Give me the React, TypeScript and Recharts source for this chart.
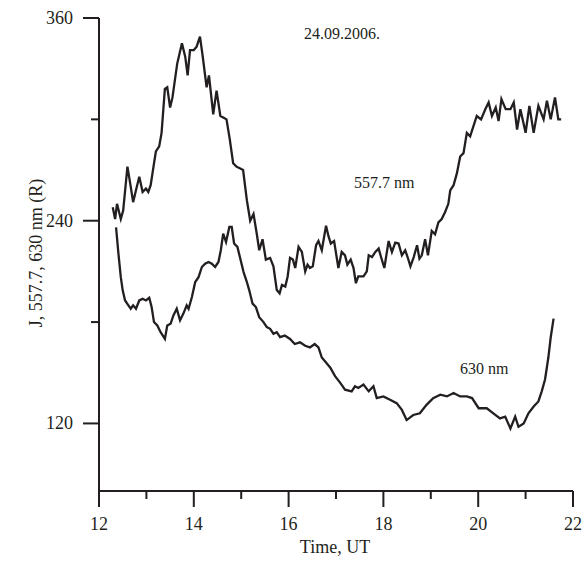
import React from "react";
import { LineChart, Line, XAxis, YAxis } from "recharts";

// 557.7 nm series
const greenTime = [12.29,12.34,12.38,12.46,12.51,12.6,12.67,12.72,12.78,12.85,12.92,12.99,13.04,13.09,13.15,13.2,13.27,13.32,13.39,13.44,13.5,13.55,13.65,13.75,13.82,13.87,13.92,14.0,14.06,14.13,14.18,14.27,14.32,14.41,14.48,14.56,14.63,14.69,14.76,14.83,14.9,14.97,15.04,15.12,15.19,15.26,15.33,15.38,15.45,15.52,15.61,15.68,15.75,15.81,15.86,15.93,15.98,16.03,16.09,16.14,16.21,16.28,16.35,16.4,16.45,16.51,16.58,16.63,16.7,16.79,16.84,16.89,16.96,17.05,17.12,17.19,17.24,17.31,17.37,17.42,17.47,17.58,17.65,17.69,17.76,17.83,17.9,17.95,18.02,18.11,18.18,18.25,18.32,18.39,18.46,18.51,18.57,18.64,18.71,18.76,18.81,18.88,18.94,19.02,19.09,19.16,19.23,19.3,19.37,19.41,19.48,19.55,19.62,19.69,19.76,19.83,19.9,19.97,20.06,20.15,20.22,20.29,20.37,20.43,20.49,20.58,20.68,20.75,20.82,20.89,21.0,21.08,21.17,21.27,21.38,21.45,21.53,21.62,21.69,21.75];
const greenValue = [248,241,250,241,246,272,260,251,258,266,257,259,257,261,272,281,284,292,318,319,307,313,333,345,337,326,341,341,343,349,339,319,326,303,317,302,301,300,288,274,272,271,270,252,240,244,232,222.5,229,217,218,213,199,197,202,201,207,218,217,212,224.5,221.5,210,214,212,213,225.5,228,222.5,237,231,226.5,228,212,221.5,219.5,214,217,212,203,207,207,210,219.5,218.5,221.5,223.5,218.5,212,228,221.5,227,226.5,219.5,222.5,218.5,213,218.5,225.5,217.6,219.5,229,219.5,234,232,239,241,245,250,258,261,268,278,280,292,290,296,302,300,306,310,302,307,299,312,306,306,310,294,306,292,308,292,308,300,311,300,313,300,300];

// 630 nm series
const redTime = [12.36,12.41,12.46,12.5,12.55,12.62,12.67,12.72,12.78,12.85,12.92,12.99,13.06,13.11,13.16,13.23,13.3,13.39,13.44,13.51,13.57,13.64,13.71,13.78,13.85,13.89,13.96,14.03,14.1,14.17,14.24,14.31,14.38,14.45,14.52,14.57,14.62,14.68,14.75,14.8,14.85,14.92,14.98,15.05,15.12,15.17,15.24,15.31,15.38,15.47,15.54,15.61,15.68,15.75,15.82,15.92,16.03,16.13,16.24,16.35,16.45,16.55,16.63,16.7,16.79,16.88,16.98,17.09,17.19,17.33,17.4,17.47,17.58,17.69,17.79,17.86,18.0,18.14,18.28,18.39,18.49,18.63,18.77,18.91,19.05,19.2,19.34,19.48,19.62,19.76,19.87,20.01,20.18,20.32,20.46,20.57,20.68,20.78,20.85,20.96,21.06,21.17,21.27,21.34,21.41,21.48,21.53,21.59];
const redValue = [236,220.5,206.6,198.8,192.8,189.9,187.9,189.9,187.9,192.8,193.8,192.8,194.4,188.9,180,178,174,170,178,179,183.9,187.9,181,185,189.9,187.9,194.8,203.7,206.6,212.6,214.6,215.6,214.6,212.6,215.6,222.5,232.4,227.4,236.3,236.3,226.5,224.5,217.6,209.6,203.7,198.8,190.9,188.9,182.9,180,177,176,173.1,174,171.1,172,170,167,168,166,165,167,165,159,156,153,148,144,140,139,142,141,143,139,142,135,136,134,132,128,122,125,126,131,135,137,136,138,136,136,135,129,129,126,123,124,117,124,118,120,126,130,133,139,146,159,171,182];

const xTicks = [12, 13, 14, 15, 16, 17, 18, 19, 20, 21, 22];
const xLabels = [12, 14, 16, 18, 20, 22];
const yTicks = [120, 180, 240, 300, 360];
const yLabels = [120, 240, 360];

const greenData = greenTime.map((t, i) => ({ t, v: greenValue[i] }));
const redData = redTime.map((t, i) => ({ t, v: redValue[i] }));

const INK = "#231f20";
const FONT = "'Liberation Serif', 'Times New Roman', serif";

const XTick = (props: any) => {
  const { x, y, payload } = props;
  const major = xLabels.includes(payload.value);
  const len = major ? 16 : 8;
  return (
    <g>
      <line x1={x} y1={y} x2={x} y2={y + len} stroke={INK} strokeWidth={2} />
      {major && (
        <text x={x} y={y + 39} textAnchor="middle" style={{ fontFamily: FONT, fontSize: 18 }} fill={INK}>
          {payload.value}
        </text>
      )}
    </g>
  );
};

const YTick = (props: any) => {
  const { x, y, payload } = props;
  const major = yLabels.includes(payload.value);
  const len = major ? 16 : 8;
  return (
    <g>
      <line x1={x - len} y1={y} x2={x} y2={y} stroke={INK} strokeWidth={2} />
      {major && (
        <text x={x - 26} y={y + 6} textAnchor="end" style={{ fontFamily: FONT, fontSize: 18 }} fill={INK}>
          {payload.value}
        </text>
      )}
    </g>
  );
};

export default function App() {
  return (
    <div style={{ position: "absolute", left: 0, top: 0, width: 583, height: 563 }}>
      <style>{`body{margin:0;overflow:hidden}.recharts-wrapper,.recharts-surface{overflow:visible !important}`}</style>
      <LineChart
        width={583}
        height={563}
        margin={{ top: 18, right: 10, left: 20, bottom: 22 }}
      >
        <XAxis
          type="number"
          dataKey="t"
          domain={[12, 22]}
          ticks={xTicks}
          interval={0}
          allowDataOverflow
          tickSize={0}
          tickMargin={0}
          tickLine={false}
          tick={<XTick />}
          height={50}
          axisLine={{ stroke: INK, strokeWidth: 2 }}
        />
        <YAxis
          type="number"
          domain={[80, 360]}
          ticks={yTicks}
          interval={0}
          allowDataOverflow
          tickSize={0}
          tickMargin={0}
          tickLine={false}
          tick={<YTick />}
          width={79}
          axisLine={{ stroke: INK, strokeWidth: 2 }}
        />
        <Line data={greenData} dataKey="v" type="linear" stroke={INK} strokeWidth={2.3} dot={false} isAnimationActive={false} />
        <Line data={redData} dataKey="v" type="linear" stroke={INK} strokeWidth={2.3} dot={false} isAnimationActive={false} />
        <text x={304} y={39} style={{ fontFamily: FONT, fontSize: 16 }} fill={INK}>24.09.2006.</text>
        <text x={354} y={188} style={{ fontFamily: FONT, fontSize: 16 }} fill={INK}>557.7 nm</text>
        <text x={460} y={374} style={{ fontFamily: FONT, fontSize: 16 }} fill={INK}>630 nm</text>
        <text x={335} y={553} textAnchor="middle" style={{ fontFamily: FONT, fontSize: 18 }} fill={INK}>Time, UT</text>
        <text x={0} y={0} transform="translate(42,253) rotate(-90)" textAnchor="middle" style={{ fontFamily: FONT, fontSize: 18 }} fill={INK}>J, 557.7, 630 nm (R)</text>
      </LineChart>
    </div>
  );
}
